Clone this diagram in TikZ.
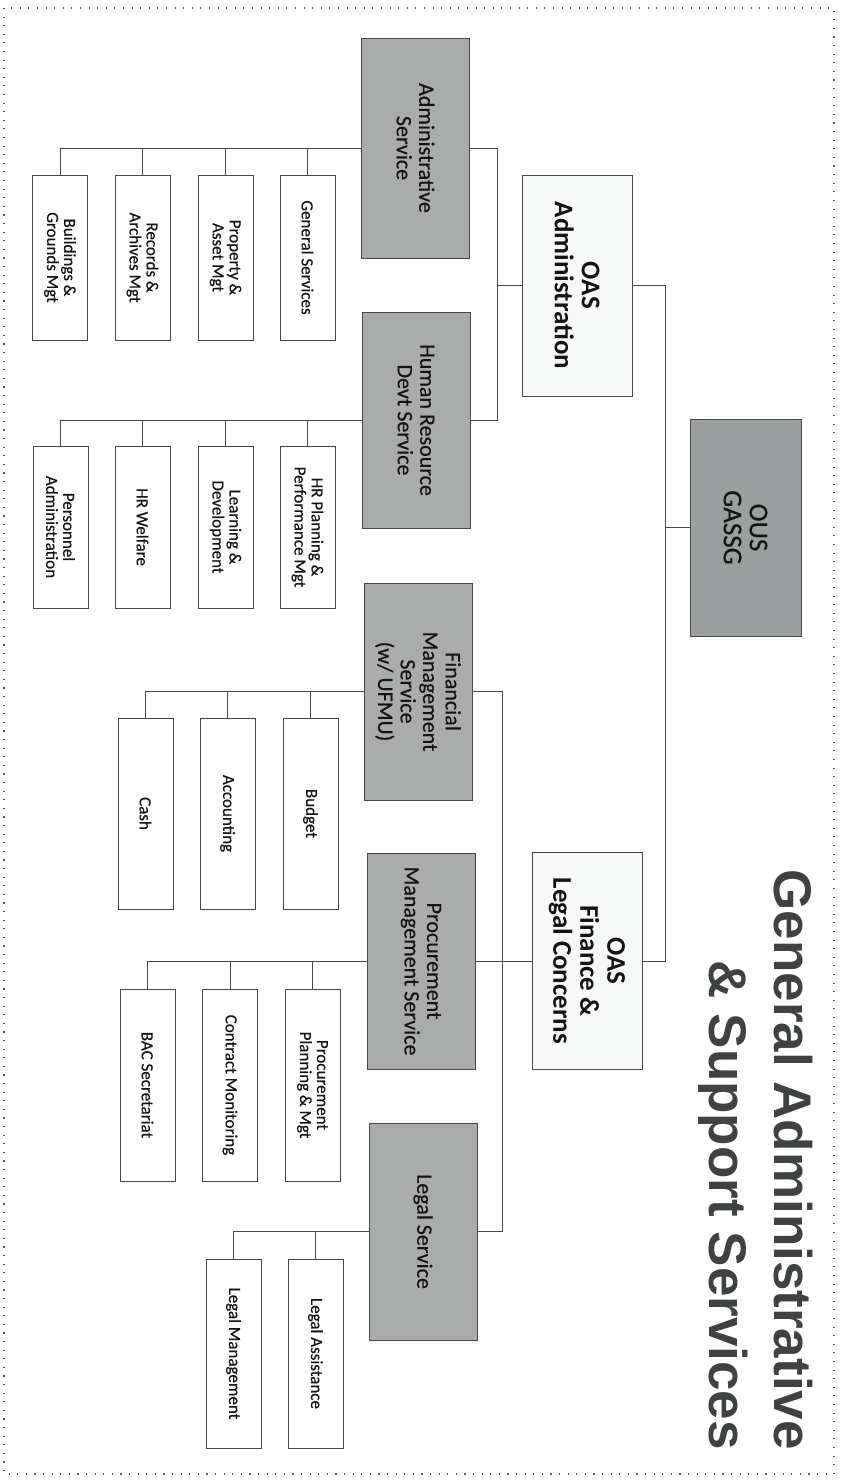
\documentclass[tikz,border=0pt]{standalone}
\usepackage{fontspec}
\setmainfont{Carlito}
\newfontfamily\boxfont[FakeBold=0.45]{Carlito}
\newfontfamily\oasfont{Carlito}
\newfontfamily\titlefont{Liberation Sans}
\usepackage{tikz}
\usetikzlibrary{positioning}
\definecolor{svcgray}{RGB}{170,171,171}
\definecolor{ousgray}{RGB}{156,159,159}
\definecolor{oasfill}{RGB}{247,248,248}
\definecolor{linegray}{RGB}{70,72,72}
\definecolor{titlegray}{RGB}{62,66,66}

\begin{document}
\begin{tikzpicture}[x=1pt, y=-1pt, every node/.style={font=\boxfont, text=black!92}]
    % Styles
    \tikzstyle{box} = [rectangle, draw=linegray, line width=0.9pt, rotate=-90, align=center, inner sep=2pt]
    \tikzstyle{svc} = [box, fill=svcgray, minimum height=108pt, font=\boxfont\fontsize{22}{22.5}\selectfont]
    \tikzstyle{office} = [box, fill=oasfill, minimum height=110pt, font=\oasfont\bfseries\fontsize{27}{27}\selectfont]
    \tikzstyle{topbox} = [box, fill=ousgray, minimum height=111pt, font=\boxfont\fontsize{27}{26}\selectfont]
    \tikzstyle{subunit} = [box, fill=white, minimum height=55pt, font=\boxfont\fontsize{17}{17}\selectfont]
    \tikzstyle{link} = [draw=linegray, line width=0.8pt]
    \tikzstyle{pageframe} = [draw=gray!70!black, line width=1.1pt, dash pattern=on 1.1pt off 7.5pt]
    \tikzstyle{titletext} = [rotate=-90, align=right, inner sep=0pt, text=titlegray, font=\titlefont\bfseries\fontsize{53}{65}\selectfont]

    \useasboundingbox (0,0) rectangle (841,1482);
    \draw[pageframe] (4,8) rectangle (834,1474);

    % Title
    \node[titletext, anchor=north east] (title) at (813,1450) {General Administrative\\\& Support Services};

    % Top and offices
    \node[topbox, minimum width=217pt] (ous) at (745.5,527.5) {OUS\\GASSG};
    \node[office, minimum width=221pt] (oasadm) at (577,285.5) {OAS\\Administration};
    \node[office, minimum width=217pt] (oasfin) at (587,961) {OAS\\Finance \&\\Legal Concerns};

    % Services
    \node[svc, minimum width=220pt] (admin) at (415.5,148) {Administrative\\Service};
    \node[svc, minimum width=216pt] (hrdev) at (416,420) {Human Resource\\Devt Service};
    \node[svc, minimum width=217pt] (fms) at (418,691.5) {Financial\\Management\\Service\\(w/ UFMU)};
    \node[svc, minimum width=216pt] (proc) at (421,961) {Procurement\\Management Service};
    \node[svc, minimum width=217pt] (legal) at (423,1231.5) {Legal Service};

    % Divisions
    \node[subunit, minimum width=165pt] (bldg) at (60,257.5) {Buildings \&\\Grounds Mgt};
    \node[subunit, minimum width=165pt] (records) at (142.5,257.5) {Records \&\\Archives Mgt};
    \node[subunit, minimum width=165pt] (property) at (225.5,257.5) {Property \&\\Asset Mgt};
    \node[subunit, minimum width=165pt] (gensvc) at (307.5,257.5) {General Services};

    \node[subunit, minimum width=162pt] (personnel) at (60.5,527) {Personnel\\Administration};
    \node[subunit, minimum width=162pt] (welfare) at (142.5,527) {HR Welfare};
    \node[subunit, minimum width=162pt] (learning) at (225.5,527) {Learning \&\\Development};
    \node[subunit, minimum width=162pt] (hrplan) at (307.5,527) {HR Planning \&\\Performance Mgt};

    \node[subunit, minimum width=191pt] (cash) at (145.5,813.5) {Cash};
    \node[subunit, minimum width=191pt] (accounting) at (227.5,813.5) {Accounting};
    \node[subunit, minimum width=191pt] (budget) at (310.5,813.5) {Budget};

    \node[subunit, minimum width=192pt] (bac) at (147.5,1085) {BAC Secretariat};
    \node[subunit, minimum width=192pt] (contract) at (230,1085) {Contract Monitoring};
    \node[subunit, minimum width=192pt] (procplan) at (312.5,1085) {Procurement\\Planning \& Mgt};

    \node[subunit, minimum width=189pt] (legalmgt) at (233.5,1353.5) {Legal Management};
    \node[subunit, minimum width=189pt] (legalasst) at (315.5,1353.5) {Legal Assistance};

    % Spine points
    \coordinate (topspine) at (665,527.5);
    \coordinate (admspine) at (497,285.5);
    \coordinate (finspine) at (502,961);

    % Connections
    \draw[link] (ous.south) -- (topspine);
    \draw[link] (oasadm.north) -| (topspine);
    \draw[link] (oasfin.north) -| (topspine);

    \draw[link] (admin.north) -| (admspine) -- (oasadm.south);
    \draw[link] (hrdev.north) -| (admspine);
    \draw[link] (proc.north) -- (oasfin.south);
    \draw[link] (fms.north) -| (finspine);
    \draw[link] (legal.north) -| (finspine);

    \draw[link] (admin.south) -| (bldg.west);
    \draw[link] (records.west) -- (records.west |- admin.south);
    \draw[link] (property.west) -- (property.west |- admin.south);
    \draw[link] (gensvc.west) -- (gensvc.west |- admin.south);

    \draw[link] (hrdev.south) -| (personnel.west);
    \draw[link] (welfare.west) -- (welfare.west |- hrdev.south);
    \draw[link] (learning.west) -- (learning.west |- hrdev.south);
    \draw[link] (hrplan.west) -- (hrplan.west |- hrdev.south);

    \draw[link] (fms.south) -| (cash.west);
    \draw[link] (accounting.west) -- (accounting.west |- fms.south);
    \draw[link] (budget.west) -- (budget.west |- fms.south);

    \draw[link] (proc.south) -| (bac.west);
    \draw[link] (contract.west) -- (contract.west |- proc.south);
    \draw[link] (procplan.west) -- (procplan.west |- proc.south);

    \draw[link] (legal.south) -| (legalmgt.west);
    \draw[link] (legalasst.west) -- (legalasst.west |- legal.south);
\end{tikzpicture}
\end{document}
